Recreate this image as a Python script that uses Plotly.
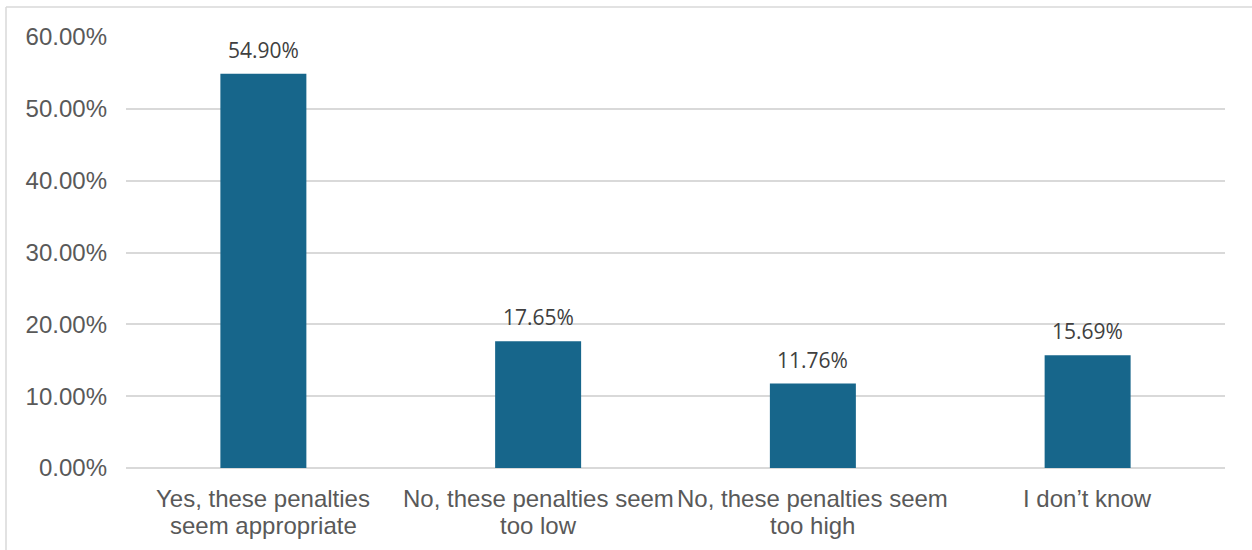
import plotly.graph_objects as go

categories = [
    "Yes, these penalties<br>seem appropriate",
    "No, these penalties seem<br>too low",
    "No, these penalties seem<br>too high",
    "I don\u2019t know",
]
values = [54.90, 17.65, 11.76, 15.69]
value_labels = ["54.90%", "17.65%", "11.76%", "15.69%"]
y_ticks = [0, 10, 20, 30, 40, 50, 60]
y_tick_labels = ["0.00%", "10.00%", "20.00%", "30.00%", "40.00%", "50.00%", "60.00%"]

BAR = "#17668B"
GRID = "#D9D9D9"
AXIS_TXT = "#595959"

fig = go.Figure()
fig.add_trace(go.Bar(
    x=list(range(len(categories))), y=values,
    marker=dict(color=BAR, line=dict(width=0)),
    width=0.313,
    hoverinfo="skip",
))

# value labels above bars
for i, (v, t) in enumerate(zip(values, value_labels)):
    fig.add_annotation(
        x=i, y=v, text=t, showarrow=False,
        xref="x", yref="y", yanchor="middle", yshift=24,
        font=dict(family="Open Sans", size=21, color="#404040"),
    )

# category labels (two lines, tight Excel-like spacing)
for i, c in enumerate(categories):
    for j, line in enumerate(c.split("<br>")):
        fig.add_annotation(
            x=i, y=0, text=line, showarrow=False,
            xref="x", yref="paper", yanchor="middle", yshift=-30 - 27 * j,
            font=dict(family="Liberation Sans, Arial", size=24, color=AXIS_TXT),
        )

# outer chart frame (cropped at right and bottom)
L, R, T, B = 126, 27, 37, 82
W, H = 1252 - L - R, 550 - T - B
fx0 = (6 - L) / W
fy1 = 1 + (T - 7) / H
fig.add_shape(type="line", xref="paper", yref="paper", x0=fx0, x1=1.2, y0=fy1, y1=fy1,
              line=dict(color=GRID, width=1.5))
fig.add_shape(type="line", xref="paper", yref="paper", x0=fx0, x1=fx0, y0=-0.5, y1=fy1,
              line=dict(color=GRID, width=1.5))

fig.update_layout(
    width=1252, height=550,
    margin=dict(l=L, r=R, t=T, b=B),
    paper_bgcolor="white", plot_bgcolor="white",
    showlegend=False,
    bargap=0.687,
    xaxis=dict(
        tickmode="array", tickvals=list(range(len(categories))),
        ticktext=["" for _ in categories],
        range=[-0.5, len(categories) - 0.5],
        showgrid=False, zeroline=False, showline=False, ticks="",
    ),
    yaxis=dict(
        range=[0, 60], tickmode="array", tickvals=y_ticks, ticktext=y_tick_labels,
        showgrid=True, gridcolor=GRID, gridwidth=1.5,
        zeroline=True, zerolinecolor=GRID, zerolinewidth=1.5,
        showline=False, ticks="",
        tickfont=dict(family="Liberation Sans, Arial", size=24, color=AXIS_TXT),
        ticklabelstandoff=18,
    ),
)

fig.write_html("out.html")
